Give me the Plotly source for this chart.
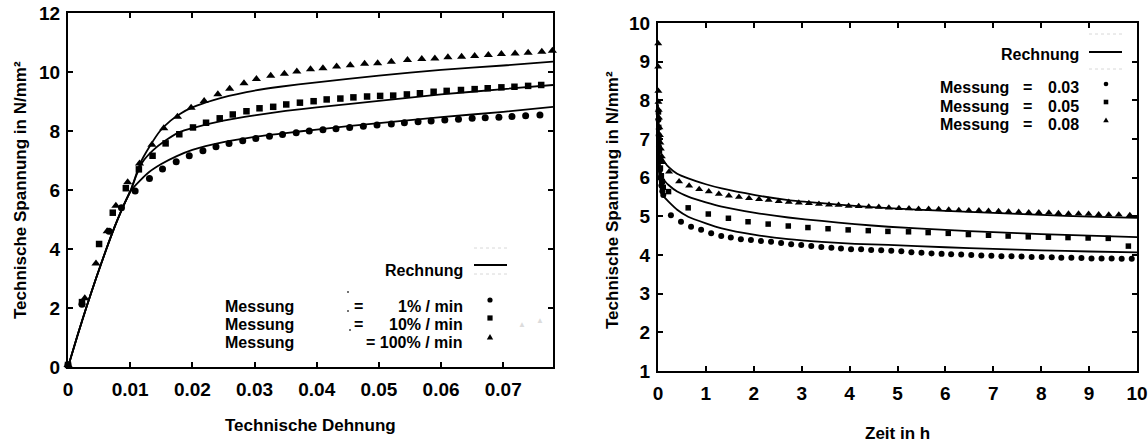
import plotly.graph_objects as go

W, H = 1148, 444

# ---------------- left chart data (strain vs stress) ----------------
eps_1 = [0, 0.00225, 0.0066, 0.0086, 0.0108, 0.0131, 0.0152, 0.0174, 0.0195, 0.0217, 0.0238,
         0.0259, 0.0281, 0.0302, 0.0324, 0.0345, 0.0367, 0.0388, 0.041, 0.0431, 0.0453, 0.0475,
         0.0497, 0.052, 0.0541, 0.0563, 0.0584, 0.0606, 0.0628, 0.065, 0.0671, 0.0693, 0.0714,
         0.0736, 0.0759]
sig_1 = [0.07, 2.13, 4.6, 5.4, 5.97, 6.39, 6.71, 6.96, 7.16, 7.33, 7.47,
         7.58, 7.67, 7.75, 7.82, 7.88, 7.94, 8.0, 8.04, 8.08, 8.12, 8.16,
         8.2, 8.24, 8.28, 8.31, 8.34, 8.37, 8.40, 8.43, 8.45, 8.47, 8.49,
         8.52, 8.54]

eps_10 = [0, 0.00225, 0.005, 0.0072, 0.0093, 0.0114, 0.0136, 0.0157, 0.0179, 0.0201, 0.0222,
          0.0244, 0.0265, 0.0287, 0.0308, 0.033, 0.0351, 0.0373, 0.0395, 0.0416, 0.0438, 0.0459,
          0.0481, 0.0502, 0.0523, 0.0545, 0.0566, 0.0588, 0.0609, 0.0632, 0.0654, 0.0675, 0.0697,
          0.0718, 0.074, 0.0761]
sig_10 = [0.07, 2.2, 4.17, 5.23, 6.06, 6.7, 7.16, 7.58, 7.89, 8.12, 8.28,
          8.43, 8.56, 8.67, 8.77, 8.82, 8.90, 8.96, 9.01, 9.07, 9.1, 9.14,
          9.17, 9.19, 9.2, 9.24, 9.28, 9.33, 9.36, 9.39, 9.42, 9.45, 9.48,
          9.5, 9.53, 9.56]

eps_100 = [0, 0.0027, 0.0045, 0.0063, 0.0077, 0.0096, 0.0115, 0.0135, 0.0154, 0.0176, 0.0198,
           0.0219, 0.0241, 0.026, 0.0283, 0.0303, 0.0326, 0.0348, 0.0368, 0.039, 0.041, 0.0432,
           0.0454, 0.0477, 0.0498, 0.052, 0.0546, 0.0569, 0.059, 0.0611, 0.0633, 0.0654, 0.0676,
           0.0697, 0.0719, 0.074, 0.0762, 0.0779]
sig_100 = [0.07, 2.33, 3.51, 4.6, 5.47, 6.26, 6.9, 7.53, 8.09, 8.48, 8.79,
           9.02, 9.25, 9.43, 9.62, 9.76, 9.87, 9.94, 10.02, 10.09, 10.13, 10.19,
           10.23, 10.28, 10.30, 10.35, 10.41, 10.44, 10.46, 10.5, 10.52, 10.54, 10.58,
           10.61, 10.63, 10.65, 10.69, 10.72]

calc_eps_1 = [0, 0.0015, 0.003, 0.0045, 0.006, 0.0075, 0.009, 0.0102, 0.0115, 0.013, 0.015,
              0.0175, 0.02, 0.025, 0.03, 0.035, 0.04, 0.05, 0.06, 0.07, 0.078]
calc_sig_1 = [0, 1.05, 2.05, 3.0, 3.9, 4.75, 5.5, 6.0, 6.3, 6.6, 6.88,
              7.15, 7.36, 7.62, 7.8, 7.93, 8.05, 8.27, 8.47, 8.65, 8.82]
calc_eps_10 = [0, 0.0015, 0.003, 0.0045, 0.006, 0.0075, 0.009, 0.0102, 0.011, 0.012, 0.0137,
               0.0155, 0.018, 0.02, 0.025, 0.03, 0.035, 0.04, 0.05, 0.06, 0.07, 0.078]
calc_sig_10 = [0, 1.05, 2.05, 3.0, 3.9, 4.75, 5.5, 6.05, 6.5, 6.95, 7.35,
               7.65, 7.97, 8.1, 8.35, 8.53, 8.68, 8.8, 9.02, 9.24, 9.42, 9.56]
calc_eps_100 = [0, 0.0015, 0.003, 0.0045, 0.006, 0.0075, 0.009, 0.0102, 0.0116, 0.0132, 0.0148,
                0.0165, 0.018, 0.02, 0.0234, 0.0287, 0.0341, 0.04, 0.05, 0.06, 0.07, 0.078]
calc_sig_100 = [0, 1.05, 2.05, 3.0, 3.9, 4.75, 5.5, 6.05, 6.9, 7.5, 8.0,
                8.35, 8.58, 8.8, 9.05, 9.32, 9.5, 9.65, 9.88, 10.07, 10.22, 10.35]

left_xticks = [0, 0.01, 0.02, 0.03, 0.04, 0.05, 0.06, 0.07]
left_xticklabels = ["0", "0.01", "0.02", "0.03", "0.04", "0.05", "0.06", "0.07"]
left_yticks = [0, 2, 4, 6, 8, 10, 12]

# ---------------- right chart data (time vs stress) ----------------
t_003 = [0.01, 0.015, 0.02, 0.03, 0.04, 0.05, 0.07, 0.09, 0.11,
         0.27, 0.48, 0.69, 0.90, 1.11, 1.32, 1.52, 1.73, 1.94, 2.15, 2.36, 2.57, 2.78, 2.99,
         3.20, 3.41, 3.62, 3.82, 4.03, 4.24, 4.45, 4.66, 4.87, 5.08, 5.29, 5.50, 5.71, 5.92,
         6.12, 6.33, 6.54, 6.75, 6.96, 7.17, 7.38, 7.59, 7.80, 8.01, 8.22, 8.42, 8.63, 8.84,
         9.05, 9.26, 9.47, 9.68, 9.89]
s_003 = [7.5, 7.1, 6.8, 6.5, 6.2, 6.0, 5.8, 5.65, 5.55,
         5.03, 4.86, 4.73, 4.65, 4.56, 4.49, 4.45, 4.41, 4.39, 4.36, 4.34, 4.31, 4.28, 4.26,
         4.23, 4.21, 4.19, 4.17, 4.15, 4.15, 4.13, 4.12, 4.11, 4.10, 4.07, 4.06, 4.04, 4.03,
         4.02, 4.01, 4.00, 3.99, 3.98, 3.97, 3.97, 3.96, 3.95, 3.95, 3.94, 3.93, 3.93, 3.92,
         3.91, 3.91, 3.91, 3.90, 3.90]

t_005 = [0.01, 0.015, 0.02, 0.03, 0.04, 0.05, 0.07, 0.09, 0.11,
         0.22, 0.63, 1.05, 1.47, 1.88, 2.30, 2.72, 3.13, 3.55, 3.97, 4.39, 4.80, 5.23, 5.64,
         6.06, 6.48, 6.90, 7.31, 7.73, 8.15, 8.56, 8.98, 9.40, 9.82]
s_005 = [7.7, 7.3, 7.0, 6.7, 6.45, 6.25, 6.05, 5.9, 5.75,
         5.64, 5.22, 5.06, 4.95, 4.86, 4.80, 4.75, 4.71, 4.68, 4.65, 4.63, 4.61, 4.60, 4.58,
         4.56, 4.53, 4.51, 4.49, 4.47, 4.46, 4.45, 4.44, 4.43, 4.23]

t_008 = [0.005, 0.005, 0.008, 0.01, 0.015, 0.02, 0.03, 0.04, 0.05, 0.06, 0.08, 0.1,
         0.23, 0.44, 0.65, 0.86, 1.06, 1.27, 1.48, 1.69, 1.90, 2.11, 2.31, 2.52, 2.73, 2.94,
         3.15, 3.36, 3.57, 3.77, 3.98, 4.19, 4.40, 4.61, 4.82, 5.03, 5.24, 5.44, 5.65, 5.86,
         6.07, 6.28, 6.49, 6.70, 6.90, 7.11, 7.32, 7.53, 7.74, 7.95, 8.16, 8.36, 8.57, 8.78,
         8.99, 9.20, 9.41, 9.62, 9.85]
s_008 = [9.47, 8.87, 8.24, 7.96, 7.75, 7.55, 7.3, 7.1, 6.9, 6.75, 6.55, 6.4,
         6.15, 5.90, 5.79, 5.70, 5.64, 5.58, 5.53, 5.50, 5.47, 5.44, 5.42, 5.39, 5.37, 5.35,
         5.34, 5.32, 5.30, 5.29, 5.27, 5.26, 5.25, 5.24, 5.22, 5.21, 5.20, 5.19, 5.19, 5.18,
         5.17, 5.16, 5.15, 5.15, 5.14, 5.13, 5.12, 5.11, 5.10, 5.10, 5.09, 5.08, 5.07, 5.07,
         5.06, 5.05, 5.04, 5.04, 5.03]

calc_t = [0, 0.01, 0.02, 0.04, 0.077, 0.15, 0.22, 0.4, 0.63, 1.0, 1.33, 2.03, 2.72, 3.42,
          4.11, 4.81, 6, 7, 8, 9, 10]
calc_s_003 = [7.6, 6.8, 6.3, 5.85, 5.6, 5.47, 5.38, 5.17, 4.99, 4.82, 4.69, 4.52, 4.41, 4.34,
              4.29, 4.26, 4.20, 4.16, 4.12, 4.09, 4.07]
calc_s_005 = [7.75, 7.2, 6.8, 6.35, 6.02, 5.9, 5.81, 5.64, 5.51, 5.36, 5.25, 5.09, 4.97, 4.88,
              4.80, 4.73, 4.65, 4.59, 4.54, 4.50, 4.46]
calc_s_008 = [7.9, 7.5, 7.2, 6.85, 6.54, 6.38, 6.28, 6.1, 5.98, 5.83, 5.72, 5.55, 5.42, 5.34,
              5.27, 5.21, 5.14, 5.09, 5.04, 4.99, 4.96]

right_xticks = list(range(0, 11))
right_yticks = list(range(1, 11))

# legend texts
left_rates = ["1% / min", "10% / min", "100% / min"]
right_strains = ["0.03", "0.05", "0.08"]

# ---------------- figure ----------------
FONT = "Liberation Sans, Arial, Helvetica, sans-serif"


def px(x):
    return x / W


def py(y):
    return 1 - y / H


fig = go.Figure()

line_style = dict(color="black", width=1.8, shape="spline", smoothing=0.5)
for xs, ys in [(calc_eps_1, calc_sig_1), (calc_eps_10, calc_sig_10), (calc_eps_100, calc_sig_100)]:
    fig.add_trace(go.Scatter(x=xs, y=ys, mode="lines", line=line_style, xaxis="x", yaxis="y",
                             showlegend=False, hoverinfo="skip"))
fig.add_trace(go.Scatter(x=eps_1, y=sig_1, mode="markers", xaxis="x", yaxis="y",
                         marker=dict(symbol="circle", size=7, color="black"), showlegend=False, cliponaxis=False))
fig.add_trace(go.Scatter(x=eps_10, y=sig_10, mode="markers", xaxis="x", yaxis="y",
                         marker=dict(symbol="square", size=6.5, color="black"), showlegend=False, cliponaxis=False))
fig.add_trace(go.Scatter(x=eps_100, y=sig_100, mode="markers", xaxis="x", yaxis="y",
                         marker=dict(symbol="triangle-up", size=8, color="black"), showlegend=False, cliponaxis=False))

for ys in [calc_s_003, calc_s_005, calc_s_008]:
    fig.add_trace(go.Scatter(x=calc_t, y=ys, mode="lines", line=line_style, xaxis="x2", yaxis="y2",
                             showlegend=False, hoverinfo="skip"))
fig.add_trace(go.Scatter(x=t_003, y=s_003, mode="markers", xaxis="x2", yaxis="y2",
                         marker=dict(symbol="circle", size=6, color="black"), showlegend=False, cliponaxis=False))
fig.add_trace(go.Scatter(x=t_005, y=s_005, mode="markers", xaxis="x2", yaxis="y2",
                         marker=dict(symbol="square", size=5.5, color="black"), showlegend=False, cliponaxis=False))
fig.add_trace(go.Scatter(x=t_008, y=s_008, mode="markers", xaxis="x2", yaxis="y2",
                         marker=dict(symbol="triangle-up", size=7, color="black"), showlegend=False, cliponaxis=False))

axis_common = dict(showline=True, linecolor="black", linewidth=2, mirror="ticks", ticks="inside",
                   ticklen=5, tickwidth=1.5, tickcolor="black", showgrid=False, zeroline=False,
                   automargin=False,
                   tickfont=dict(family=FONT, size=19, color="black", weight="bold"))

fig.update_layout(
    template="none",
    width=W, height=H,
    margin=dict(l=0, r=0, t=0, b=0, pad=0),
    paper_bgcolor="white", plot_bgcolor="white",
    font=dict(family=FONT, color="black"),
    xaxis=dict(domain=[px(68), px(553)], range=[0, 0.078], tickvals=left_xticks,
               ticktext=left_xticklabels, anchor="y", ticklabelstandoff=4, **axis_common),
    yaxis=dict(domain=[py(367), py(13)], range=[0, 12], tickvals=left_yticks, anchor="x",
               ticklabelstandoff=2, **axis_common),
    xaxis2=dict(domain=[px(658), px(1137)], range=[0, 10], tickvals=right_xticks, anchor="y2",
                ticklabelstandoff=4, **axis_common),
    yaxis2=dict(domain=[py(371), py(23)], range=[1, 10], tickvals=right_yticks, anchor="x2",
                ticklabelstandoff=2, **axis_common),
)

ann = []


def text(x, y, s, xanchor="center", size=17, angle=0, color="black"):
    ann.append(dict(x=px(x), y=py(y), xref="paper", yref="paper", text=s, showarrow=False,
                    xanchor=xanchor, yanchor="middle", textangle=angle,
                    font=dict(family=FONT, size=size, color=color, weight="bold")))


LEG = 16

# axis titles
text(310.5, 425, "Technische Dehnung")
text(897, 433, "Zeit in h")
text(20, 190, "Technische Spannung in N/mm²", angle=-90)
text(612, 200, "Technische Spannung in N/mm²", angle=-90)

# left legend
text(465, 270, "Rechnung", xanchor="right", size=LEG)
left_rows = [306, 324, 342]
for i, (yy, rate) in enumerate(zip(left_rows, left_rates)):
    text(223, yy, "Messung", xanchor="left", size=LEG)
    if i < 2:
        text(352, yy, "=", xanchor="left", size=LEG)
        text(465, yy, rate, xanchor="right", size=LEG)
    else:
        text(465, yy, "= " + rate, xanchor="right", size=LEG)
text(522, 324, "▲", size=8, color="#dcdcdc")
text(540, 320, "▲", size=8, color="#dcdcdc")

# right legend
text(1081, 55, "Rechnung", xanchor="right", size=LEG)
right_rows = [88, 106, 124]
for yy, val in zip(right_rows, right_strains):
    text(938, yy, "Messung", xanchor="left", size=LEG)
    text(1021, yy, "=", xanchor="left", size=LEG)
    text(1081, yy, val, xanchor="right", size=LEG)

fig.update_layout(annotations=ann)

shapes = []


def hline(x0, x1, y, color="black", width=1.8, dash="solid"):
    shapes.append(dict(type="line", xref="paper", yref="paper", x0=px(x0), x1=px(x1), y0=py(y), y1=py(y),
                       line=dict(color=color, width=width, dash=dash)))


def circ(x, y, r, color="black"):
    shapes.append(dict(type="circle", xref="paper", yref="paper", x0=px(x - r), x1=px(x + r),
                       y0=py(y + r), y1=py(y - r), fillcolor=color, line=dict(width=0)))


def sq(x, y, r):
    shapes.append(dict(type="rect", xref="paper", yref="paper", x0=px(x - r), x1=px(x + r),
                       y0=py(y + r), y1=py(y - r), fillcolor="black", line=dict(width=0)))


def tri(x, y, r):
    path = "M {} {} L {} {} L {} {} Z".format(px(x - r), py(y + r * 0.8), px(x + r), py(y + r * 0.8),
                                              px(x), py(y - r * 0.9))
    shapes.append(dict(type="path", xref="paper", yref="paper", path=path, fillcolor="black",
                       line=dict(width=0)))


# left legend glyphs
hline(474, 507, 248, color="#d8d8d8", width=1, dash="dot")
hline(474, 507, 265)
hline(474, 507, 274, color="#d8d8d8", width=1, dash="dot")
circ(490, left_rows[0] - 6, 2.6)
sq(490, left_rows[1] - 6, 2.6)
tri(490, left_rows[2] - 5, 3.2)
circ(348, 292, 1, color="#444")
circ(348, 311, 1, color="#444")
circ(350, 330, 1, color="#444")

# right legend glyphs
hline(1089, 1122, 34, color="#d8d8d8", width=1, dash="dot")
hline(1089, 1122, 52)
hline(1089, 1122, 69, color="#d8d8d8", width=1, dash="dot")
circ(1106, right_rows[0] - 4, 2.3)
sq(1106, right_rows[1] - 4, 2.3)
tri(1106, right_rows[2] - 4, 2.8)

fig.update_layout(shapes=shapes)

fig.write_html("out.html", config={"displayModeBar": False},
               post_script="document.body.style.margin='0px';document.body.style.overflow='hidden';")
